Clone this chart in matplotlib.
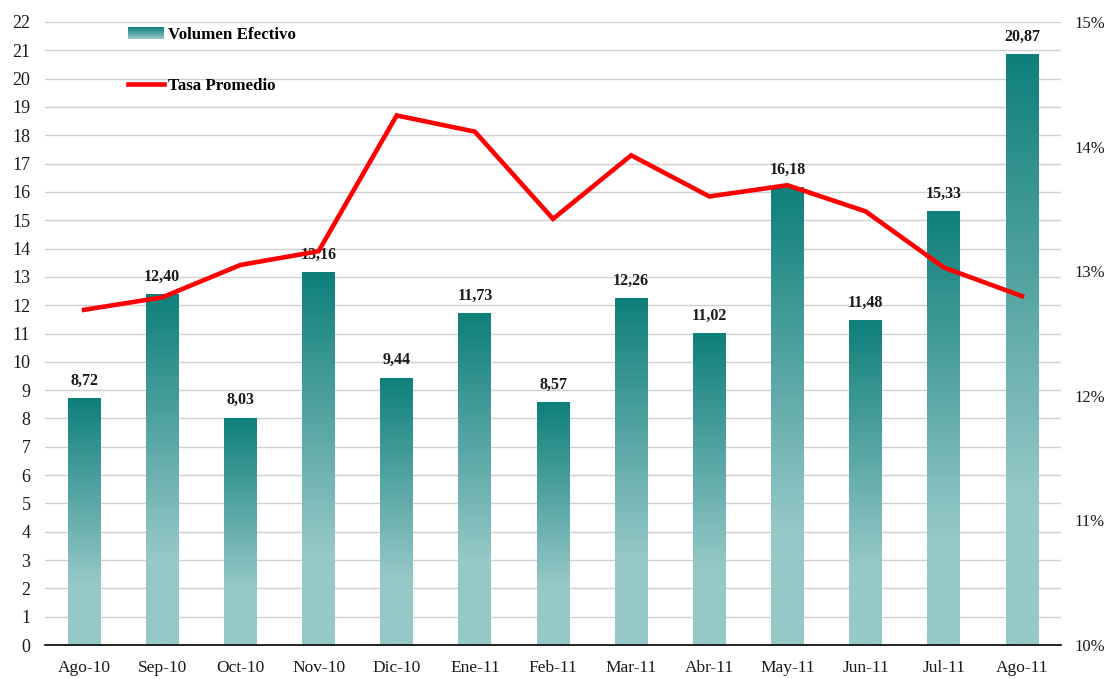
import numpy as np
import matplotlib
matplotlib.use("Agg")
import matplotlib.pyplot as plt
from matplotlib.colors import LinearSegmentedColormap
from matplotlib.patches import Rectangle
from matplotlib.legend_handler import HandlerBase
from matplotlib.lines import Line2D

plt.rcParams['font.family'] = ['Liberation Serif', 'DejaVu Serif']

# data
months = ['Ago-10', 'Sep-10', 'Oct-10', 'Nov-10', 'Dic-10', 'Ene-11', 'Feb-11',
          'Mar-11', 'Abr-11', 'May-11', 'Jun-11', 'Jul-11', 'Ago-11']
volumen = [8.72, 12.40, 8.03, 13.16, 9.44, 11.73, 8.57,
           12.26, 11.02, 16.18, 11.48, 15.33, 20.87]
tasa = [12.69, 12.79, 13.05, 13.16, 14.25, 14.12, 13.42,
        13.93, 13.60, 13.69, 13.48, 13.03, 12.80]

dark = '#0e7f7a'
light = '#96c8c8'
# light at the bottom quarter, dark at the top
cmap = LinearSegmentedColormap.from_list('teal', [(0, light), (0.25, light), (1, dark)])
grad = np.linspace(0, 1, 256).reshape(-1, 1)


class GradientHandler(HandlerBase):
    def create_artists(self, legend, orig_handle, xdescent, ydescent,
                       width, height, fontsize, trans):
        n = 12
        out = []
        for i in range(n):
            c = cmap(0.25 + 0.75 * (i + 0.5) / n)
            r = Rectangle((-xdescent, -ydescent + height * i / n), width, height / n + 0.1,
                          facecolor=c, edgecolor='none', transform=trans)
            out.append(r)
        return out


fig = plt.figure(figsize=(11.04, 6.79), dpi=100)
ax = fig.add_axes([45 / 1104, 34 / 679, 1016 / 1104, 623 / 679])

x = np.arange(len(months))
bars = ax.bar(x, volumen, width=0.42, facecolor='none', edgecolor='none', zorder=2)
for b, v in zip(bars, volumen):
    x0, w, h = b.get_x(), b.get_width(), b.get_height()
    im = ax.imshow(grad, extent=[x0, x0 + w, 0, h], origin='lower', cmap=cmap,
                   aspect='auto', zorder=2, interpolation='bilinear')
    im.set_clip_path(b)
    ax.text(x0 + w / 2, h + 0.33, f'{v:.2f}'.replace('.', ','), ha='center', va='bottom',
            fontsize=11.5, fontweight='bold', color='#1a1a1a', zorder=5)

ax.set_xlim(-0.5, len(months) - 0.5)
ax.set_ylim(0, 22)
ax.set_yticks(range(0, 23))
ax.set_xticks(x)
ax.set_xticklabels(months)
ax.yaxis.grid(True, color='#d0d0d0', lw=1)
ax.set_axisbelow(True)
for s in ['top', 'left', 'right']:
    ax.spines[s].set_visible(False)
ax.spines['bottom'].set_color('black')
ax.spines['bottom'].set_linewidth(1.2)
ax.tick_params(axis='y', length=0, labelsize=13, pad=10.5, colors='#1a1a1a')
ax.tick_params(axis='x', length=0, labelsize=12.5, pad=11, colors='#1a1a1a')

ax2 = ax.twinx()
ax2.plot(x, tasa, color='#ff0000', lw=3.3, solid_joinstyle='miter', zorder=4)
ax2.set_ylim(10, 15)
ax2.set_yticks(range(10, 16))
ax2.set_yticklabels([f'{t}%' for t in range(10, 16)])
for s in ['top', 'left', 'right', 'bottom']:
    ax2.spines[s].set_visible(False)
ax2.tick_params(axis='y', length=0, labelsize=12, pad=10, colors='#1a1a1a')

handles = [Rectangle((0, 0), 1, 1), Line2D([], [], color='#ff0000', lw=3.3)]
leg = ax2.legend(handles, ['Volumen Efectivo', 'Tasa Promedio'],
                 handler_map={Rectangle: GradientHandler()},
                 loc='upper left', bbox_to_anchor=(0.067, 1.016), frameon=False,
                 labelspacing=2.05, handlelength=2.1, handletextpad=0.25,
                 prop={'weight': 'bold', 'size': 12.2})

fig.savefig('out.png', dpi=100)
